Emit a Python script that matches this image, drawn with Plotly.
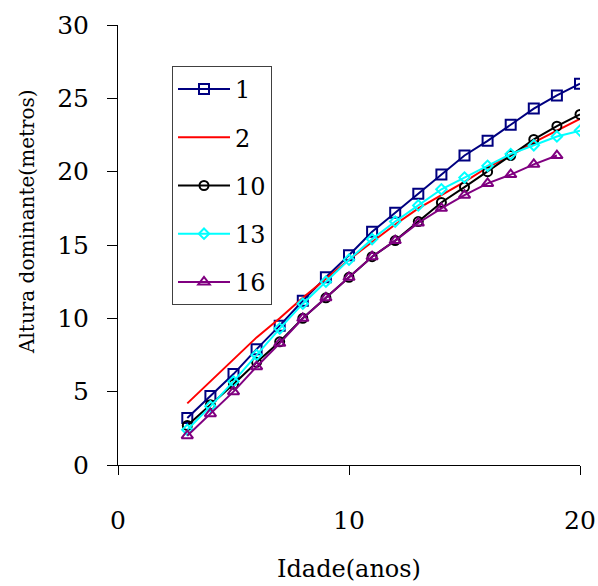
import plotly.graph_objects as go

idade = list(range(3, 21))
s1 = [3.2, 4.7, 6.2, 7.9, 9.5, 11.2, 12.8, 14.3, 15.9, 17.2, 18.5, 19.8, 21.1, 22.1, 23.2, 24.3, 25.2, 26.0]
s2 = [4.2, 5.7, 7.2, 8.7, 10.0, 11.4, 12.7, 14.0, 15.2, 16.4, 17.5, 18.4, 19.3, 20.3, 21.1, 22.0, 22.8, 23.6]
s10 = [2.7, 4.1, 5.5, 7.0, 8.4, 10.0, 11.4, 12.8, 14.2, 15.3, 16.6, 17.9, 18.95, 20.0, 21.1, 22.2, 23.1, 23.9]
s13 = [2.4, 4.0, 5.7, 7.5, 9.3, 11.0, 12.5, 14.0, 15.4, 16.6, 17.7, 18.8, 19.6, 20.4, 21.2, 21.8, 22.4, 22.8]
idade16 = list(range(3, 20))
s16 = [2.0, 3.5, 5.0, 6.7, 8.3, 10.0, 11.4, 12.8, 14.2, 15.3, 16.5, 17.5, 18.4, 19.2, 19.8, 20.5, 21.1]

FONT = "DejaVu Serif"

fig = go.Figure()
fig.add_trace(go.Scatter(x=idade, y=s1, name="1", mode="lines+markers", legendgroup="a",
                         line=dict(color="#000080", width=2),
                         marker=dict(symbol="square-open", size=10, color="#000080", line=dict(width=2))))
fig.add_trace(go.Scatter(x=idade, y=s2, name="2", mode="lines", legendgroup="b",
                         line=dict(color="#FF0000", width=2)))
fig.add_trace(go.Scatter(x=idade, y=s10, name="10", mode="lines+markers", legendgroup="c",
                         line=dict(color="#000000", width=2),
                         marker=dict(symbol="circle-open", size=9, color="#000000", line=dict(width=2))))
fig.add_trace(go.Scatter(x=idade, y=s13, name="13", mode="lines+markers", legendgroup="d",
                         line=dict(color="#00FFFF", width=2),
                         marker=dict(symbol="diamond-open", size=8, color="#00FFFF", line=dict(width=2))))
fig.add_trace(go.Scatter(x=idade16, y=s16, name="16", mode="lines+markers", legendgroup="e",
                         line=dict(color="#800080", width=2),
                         marker=dict(symbol="triangle-up-open", size=10, color="#800080", line=dict(width=2))))

L, T = 118, 25
W, H = 598, 586
pw, ph = 462, 440

fig.update_layout(
    width=W, height=H,
    margin=dict(l=L, r=W - L - pw, t=T, b=H - T - ph, autoexpand=False),
    paper_bgcolor="white", plot_bgcolor="white",
    font=dict(family=FONT, size=24, color="black"),
    showlegend=True,
    legend=dict(x=(172 - L) / pw, y=(465 - 66) / ph, xanchor="left", yanchor="top",
                bordercolor="#404040", borderwidth=1, bgcolor="white",
                font=dict(family=FONT, size=24, color="black"),
                tracegroupgap=14, itemwidth=52),
    xaxis=dict(range=[0, 20], tickvals=[0, 10, 20], showgrid=False, zeroline=False,
               showline=True, linecolor="black", linewidth=1, automargin=False,
               ticks="outside", ticklen=9, tickcolor="black", ticklabelstandoff=24,
               tickfont=dict(family=FONT, size=25)),
    yaxis=dict(range=[0, 30], tickvals=[0, 5, 10, 15, 20, 25, 30], showgrid=False, zeroline=False,
               showline=True, linecolor="black", linewidth=1, automargin=False,
               ticks="outside", ticklen=10, tickcolor="black", ticklabelstandoff=13,
               tickfont=dict(family=FONT, size=25)),
    annotations=[
        dict(text="Idade(anos)", xref="paper", yref="paper", x=(349 - L) / pw, y=(465 - 569) / ph,
             xanchor="center", yanchor="middle", showarrow=False, font=dict(family=FONT, size=24)),
        dict(text="Altura dominante(metros)", xref="paper", yref="paper", x=(27 - L) / pw,
             y=(465 - 222) / ph, xanchor="center", yanchor="middle", textangle=-90,
             showarrow=False, font=dict(family=FONT, size=20)),
    ],
)

fig.write_html("out.html")
